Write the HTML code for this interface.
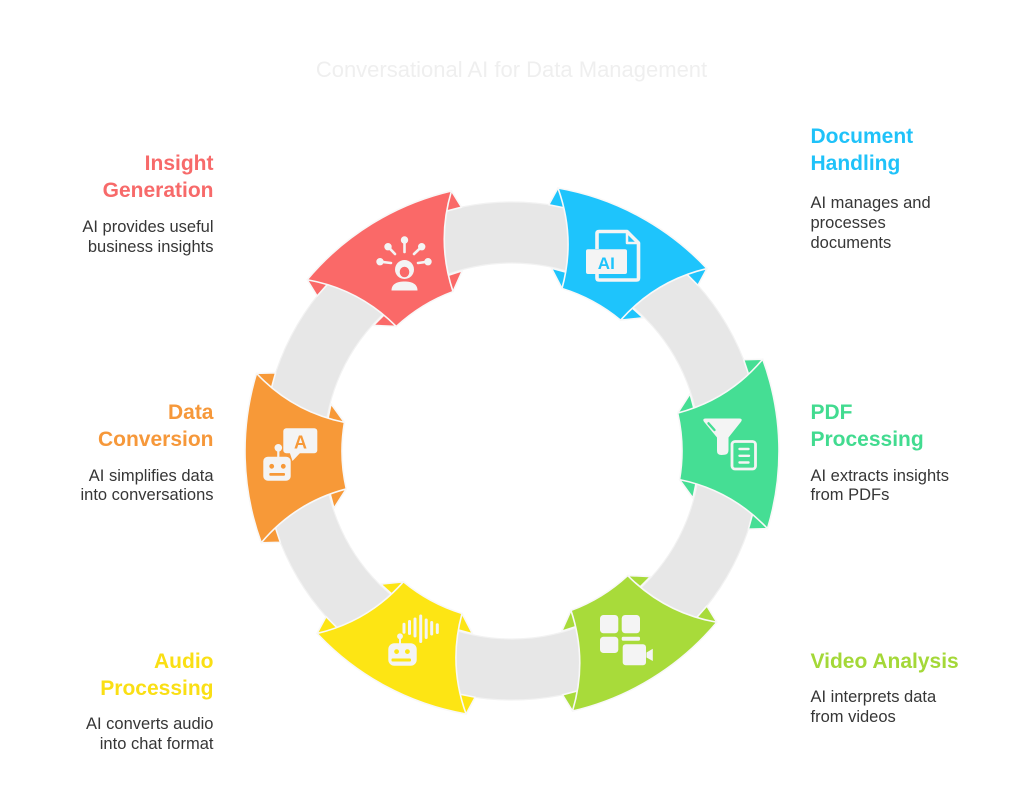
<!DOCTYPE html>
<html>
<head>
<meta charset="utf-8">
<style>
  html,body{margin:0;padding:0;background:#ffffff;}
  svg{display:block;}
  text{font-family:"Liberation Sans", Arial, sans-serif;}
</style>
</head>
<body>
<svg width="1024" height="809" viewBox="0 0 1024 809" xmlns="http://www.w3.org/2000/svg">
  <rect width="1024" height="809" fill="#ffffff"/>

  <!-- Title -->
  <text x="511.5" y="77" font-size="22" fill="#efefef" text-anchor="middle">Conversational AI for Data Management</text>

  <!-- Gray ring -->
  <circle cx="512" cy="451" r="218.5" fill="none" stroke="#e7e7e7" stroke-width="61"/>
  <circle cx="512" cy="451" r="249" fill="none" stroke="#f2f2f2" stroke-width="1.2"/>
  <circle cx="512" cy="451" r="188" fill="none" stroke="#f2f2f2" stroke-width="1.2"/>

  <!-- Segments -->
  <g stroke="#f8f8f8" stroke-width="1.6" stroke-linejoin="round">
    <!-- green (PDF) -->
    <g transform="translate(512 451) rotate(-1.6)" fill="#45DE94">
      <path d="M253.20,84.72 L234.13,84.75 L241.60,60.24 Z"/>
      <path d="M166.70,33.31 L179.57,52.17 L183.87,34.08 Z"/>
      <path d="M253.20,-84.72 L234.13,-84.75 L241.60,-60.24 Z"/>
      <path d="M166.70,-33.31 L179.57,-52.17 L183.87,-34.08 Z"/>
      <path d="M253.20,-84.72 A267,267 0 0 1 253.20,84.72 Q218.13,45.26 166.70,33.31 A170,170 0 0 0 166.70,-33.31 Q218.13,-45.26 253.20,-84.72 Z"/>
    </g>
    <!-- lime (Video) -->
    <g transform="translate(512 451) rotate(58.4)" fill="#A8DB3A">
      <path d="M253.20,84.72 L234.13,84.75 L241.60,60.24 Z"/>
      <path d="M166.70,33.31 L179.57,52.17 L183.87,34.08 Z"/>
      <path d="M253.20,-84.72 L234.13,-84.75 L241.60,-60.24 Z"/>
      <path d="M166.70,-33.31 L179.57,-52.17 L183.87,-34.08 Z"/>
      <path d="M253.20,-84.72 A267,267 0 0 1 253.20,84.72 Q218.13,45.26 166.70,33.31 A170,170 0 0 0 166.70,-33.31 Q218.13,-45.26 253.20,-84.72 Z"/>
    </g>
    <!-- yellow (Audio) -->
    <g transform="translate(512 451) rotate(118.4)" fill="#FDE514">
      <path d="M253.20,84.72 L234.13,84.75 L241.60,60.24 Z"/>
      <path d="M166.70,33.31 L179.57,52.17 L183.87,34.08 Z"/>
      <path d="M253.20,-84.72 L234.13,-84.75 L241.60,-60.24 Z"/>
      <path d="M166.70,-33.31 L179.57,-52.17 L183.87,-34.08 Z"/>
      <path d="M253.20,-84.72 A267,267 0 0 1 253.20,84.72 Q218.13,45.26 166.70,33.31 A170,170 0 0 0 166.70,-33.31 Q218.13,-45.26 253.20,-84.72 Z"/>
    </g>
    <!-- orange (Data) -->
    <g transform="translate(512 451) rotate(178.4)" fill="#F79938">
      <path d="M253.20,84.72 L234.13,84.75 L241.60,60.24 Z"/>
      <path d="M166.70,33.31 L179.57,52.17 L183.87,34.08 Z"/>
      <path d="M253.20,-84.72 L234.13,-84.75 L241.60,-60.24 Z"/>
      <path d="M166.70,-33.31 L179.57,-52.17 L183.87,-34.08 Z"/>
      <path d="M253.20,-84.72 A267,267 0 0 1 253.20,84.72 Q218.13,45.26 166.70,33.31 A170,170 0 0 0 166.70,-33.31 Q218.13,-45.26 253.20,-84.72 Z"/>
    </g>
    <!-- red (Insight) -->
    <g transform="translate(512 451) rotate(238.4)" fill="#FA6968">
      <path d="M253.20,84.72 L234.13,84.75 L241.60,60.24 Z"/>
      <path d="M166.70,33.31 L179.57,52.17 L183.87,34.08 Z"/>
      <path d="M253.20,-84.72 L234.13,-84.75 L241.60,-60.24 Z"/>
      <path d="M166.70,-33.31 L179.57,-52.17 L183.87,-34.08 Z"/>
      <path d="M253.20,-84.72 A267,267 0 0 1 253.20,84.72 Q218.13,45.26 166.70,33.31 A170,170 0 0 0 166.70,-33.31 Q218.13,-45.26 253.20,-84.72 Z"/>
    </g>
    <!-- blue (Document) -->
    <g transform="translate(512 451) rotate(298.4)" fill="#1EC4FC">
      <path d="M253.20,84.72 L234.13,84.75 L241.60,60.24 Z"/>
      <path d="M166.70,33.31 L179.57,52.17 L183.87,34.08 Z"/>
      <path d="M253.20,-84.72 L234.13,-84.75 L241.60,-60.24 Z"/>
      <path d="M166.70,-33.31 L179.57,-52.17 L183.87,-34.08 Z"/>
      <path d="M253.20,-84.72 A267,267 0 0 1 253.20,84.72 Q218.13,45.26 166.70,33.31 A170,170 0 0 0 166.70,-33.31 Q218.13,-45.26 253.20,-84.72 Z"/>
    </g>
  </g>

  <!-- Icon: Insight (red) -->
  <g fill="#f4f4f4" stroke="#f4f4f4" stroke-linecap="round">
    <g stroke-width="2.6">
      <line x1="380" y1="261.7" x2="391" y2="263"/>
      <line x1="388" y1="246.7" x2="395" y2="254"/>
      <line x1="404.5" y1="240" x2="404.5" y2="252"/>
      <line x1="421.7" y1="246.7" x2="414" y2="254"/>
      <line x1="428" y1="261.7" x2="418" y2="263"/>
    </g>
    <g stroke="none">
      <circle cx="380" cy="261.7" r="3.7"/>
      <circle cx="388" cy="246.7" r="3.7"/>
      <circle cx="404.5" cy="240" r="3.7"/>
      <circle cx="421.7" cy="246.7" r="3.7"/>
      <circle cx="428" cy="261.7" r="3.7"/>
      <circle cx="404.5" cy="269.5" r="9.5"/>
      <ellipse cx="404.5" cy="272" rx="4.8" ry="5.3" fill="#FA6968"/>
      <path d="M391.5,290.5 C391.5,284 397,281.5 404.5,281.5 C412,281.5 417.5,284 417.5,290.5 Z"/>
    </g>
  </g>

  <!-- Icon: Document (blue) -->
  <g>
    <path d="M597,249 V233.5 Q597,231.5 599,231.5 H627 L638.5,243 V278 Q638.5,280 636.5,280 H599 Q597,280 597,278 V274" fill="none" stroke="#f4f4f4" stroke-width="3.6" stroke-linejoin="round"/>
    <path d="M627,232 V243 H638" fill="none" stroke="#f4f4f4" stroke-width="2.5" stroke-linejoin="round"/>
    <rect x="586" y="249.3" width="41" height="24.7" rx="2" fill="#f4f4f4"/>
    <text x="606.3" y="269" font-family="Liberation Mono, monospace" font-weight="bold" font-size="17" fill="#1EC4FC" text-anchor="middle">AI</text>
  </g>

  <!-- Icon: Data Conversion (orange) -->
  <g fill="#f4f4f4">
    <rect x="283.3" y="428.3" width="34" height="25" rx="3"/>
    <path d="M289.5,452 L301,452 L292.5,461 Z"/>
    <text x="300.5" y="448.3" font-size="18" font-weight="bold" fill="#F79938" text-anchor="middle">A</text>
    <circle cx="278.3" cy="447.8" r="3.8"/>
    <rect x="277.2" y="449" width="2.2" height="9"/>
    <rect x="263.3" y="456.7" width="27.4" height="24" rx="4.5"/>
    <circle cx="271.7" cy="466.3" r="2.4" fill="#F79938"/>
    <circle cx="283.3" cy="466.3" r="2.4" fill="#F79938"/>
    <rect x="269.3" y="473" width="15.7" height="2.8" rx="1" fill="#F79938"/>
  </g>

  <!-- Icon: PDF Processing (green) -->
  <g>
    <path d="M705.5,418.5 H739.5 Q743,418.5 741,421.8 L728.5,437.5 V450 Q728.5,454.5 724.5,454.8 L721.5,455 Q717,455 717,451 V437.5 L704,421.8 Q702,418.5 705.5,418.5 Z" fill="#f4f4f4"/>
    <line x1="708.5" y1="423.3" x2="714.5" y2="430" stroke="#45DE94" stroke-width="2.4" stroke-linecap="round"/>
    <rect x="728.5" y="438" width="30.5" height="34.5" rx="4.5" fill="#45DE94"/>
    <rect x="732" y="441.5" width="23.5" height="27.5" rx="3" fill="#45DE94" stroke="#f4f4f4" stroke-width="2.8"/>
    <g stroke="#f4f4f4" stroke-width="2.4" stroke-linecap="round">
      <line x1="739.5" y1="449" x2="748.5" y2="449"/>
      <line x1="739.5" y1="455.8" x2="749" y2="455.8"/>
      <line x1="739.5" y1="462.5" x2="748.5" y2="462.5"/>
    </g>
  </g>

  <!-- Icon: Video Analysis (lime) -->
  <g fill="#f4f4f4">
    <rect x="600" y="615" width="18.3" height="18.3" rx="3.5"/>
    <rect x="621.7" y="615" width="18.3" height="18.3" rx="3.5"/>
    <rect x="600" y="636.7" width="18.3" height="16.3" rx="3.5"/>
    <rect x="621.7" y="636.7" width="18.3" height="4" rx="1.5"/>
    <rect x="620" y="642" width="35" height="25.5" rx="4" fill="#A8DB3A"/>
    <rect x="622.7" y="644.3" width="23.3" height="21" rx="3"/>
    <path d="M646.5,652.5 L652.8,648.8 V661 L646.5,657.5 Z"/>
  </g>

  <!-- Icon: Audio Processing (yellow) -->
  <g>
    <g stroke="#f4f4f4" stroke-width="3" stroke-linecap="round">
      <line x1="404" y1="624.3" x2="404" y2="632.3"/>
      <line x1="409.5" y1="621.5" x2="409.5" y2="633.5"/>
      <line x1="415" y1="619" x2="415" y2="636"/>
      <line x1="420.7" y1="616" x2="420.7" y2="641.5"/>
      <line x1="426.2" y1="620" x2="426.2" y2="637.5"/>
      <line x1="431.7" y1="622.5" x2="431.7" y2="634"/>
      <line x1="437.3" y1="624.8" x2="437.3" y2="632.5"/>
    </g>
    <circle cx="400" cy="636.3" r="2.9" fill="#f4f4f4"/>
    <rect x="399" y="637" width="2" height="7" fill="#f4f4f4"/>
    <rect x="388.3" y="643.3" width="28.4" height="22.4" rx="6" fill="#f4f4f4"/>
    <circle cx="396.6" cy="651.6" r="2.4" fill="#FDE514"/>
    <circle cx="407.4" cy="651.6" r="2.4" fill="#FDE514"/>
    <rect x="391.5" y="658.5" width="19.5" height="3" rx="1" fill="#FDE514"/>
  </g>

  <!-- Left labels -->
  <g text-anchor="end">
    <text x="213.5" y="170" font-size="21" font-weight="bold" fill="#F76A6A">Insight</text>
    <text x="213.5" y="197" font-size="21" font-weight="bold" fill="#F76A6A">Generation</text>
    <text x="213.5" y="232" font-size="16.5" fill="#363636">AI provides useful</text>
    <text x="213.5" y="252" font-size="16.5" fill="#363636">business insights</text>

    <text x="213.5" y="419" font-size="21" font-weight="bold" fill="#F6983A">Data</text>
    <text x="213.5" y="446" font-size="21" font-weight="bold" fill="#F6983A">Conversion</text>
    <text x="213.5" y="481" font-size="16.5" fill="#363636">AI simplifies data</text>
    <text x="213.5" y="500" font-size="16.5" fill="#363636">into conversations</text>

    <text x="213.5" y="668" font-size="21" font-weight="bold" fill="#FADF14">Audio</text>
    <text x="213.5" y="695" font-size="21" font-weight="bold" fill="#FADF14">Processing</text>
    <text x="213.5" y="729" font-size="16.5" fill="#363636">AI converts audio</text>
    <text x="213.5" y="749" font-size="16.5" fill="#363636">into chat format</text>
  </g>

  <!-- Right labels -->
  <g text-anchor="start">
    <text x="810.5" y="143" font-size="21" font-weight="bold" fill="#1FC2F9">Document</text>
    <text x="810.5" y="170" font-size="21" font-weight="bold" fill="#1FC2F9">Handling</text>
    <text x="810.5" y="208" font-size="16.5" fill="#363636">AI manages and</text>
    <text x="810.5" y="228" font-size="16.5" fill="#363636">processes</text>
    <text x="810.5" y="248" font-size="16.5" fill="#363636">documents</text>

    <text x="810.5" y="419" font-size="21" font-weight="bold" fill="#42DB90">PDF</text>
    <text x="810.5" y="446" font-size="21" font-weight="bold" fill="#42DB90">Processing</text>
    <text x="810.5" y="481" font-size="16.5" fill="#363636">AI extracts insights</text>
    <text x="810.5" y="500" font-size="16.5" fill="#363636">from PDFs</text>

    <text x="810.5" y="668" font-size="21" font-weight="bold" fill="#A4D838">Video Analysis</text>
    <text x="810.5" y="702" font-size="16.5" fill="#363636">AI interprets data</text>
    <text x="810.5" y="722" font-size="16.5" fill="#363636">from videos</text>
  </g>
</svg>
</body>
</html>
